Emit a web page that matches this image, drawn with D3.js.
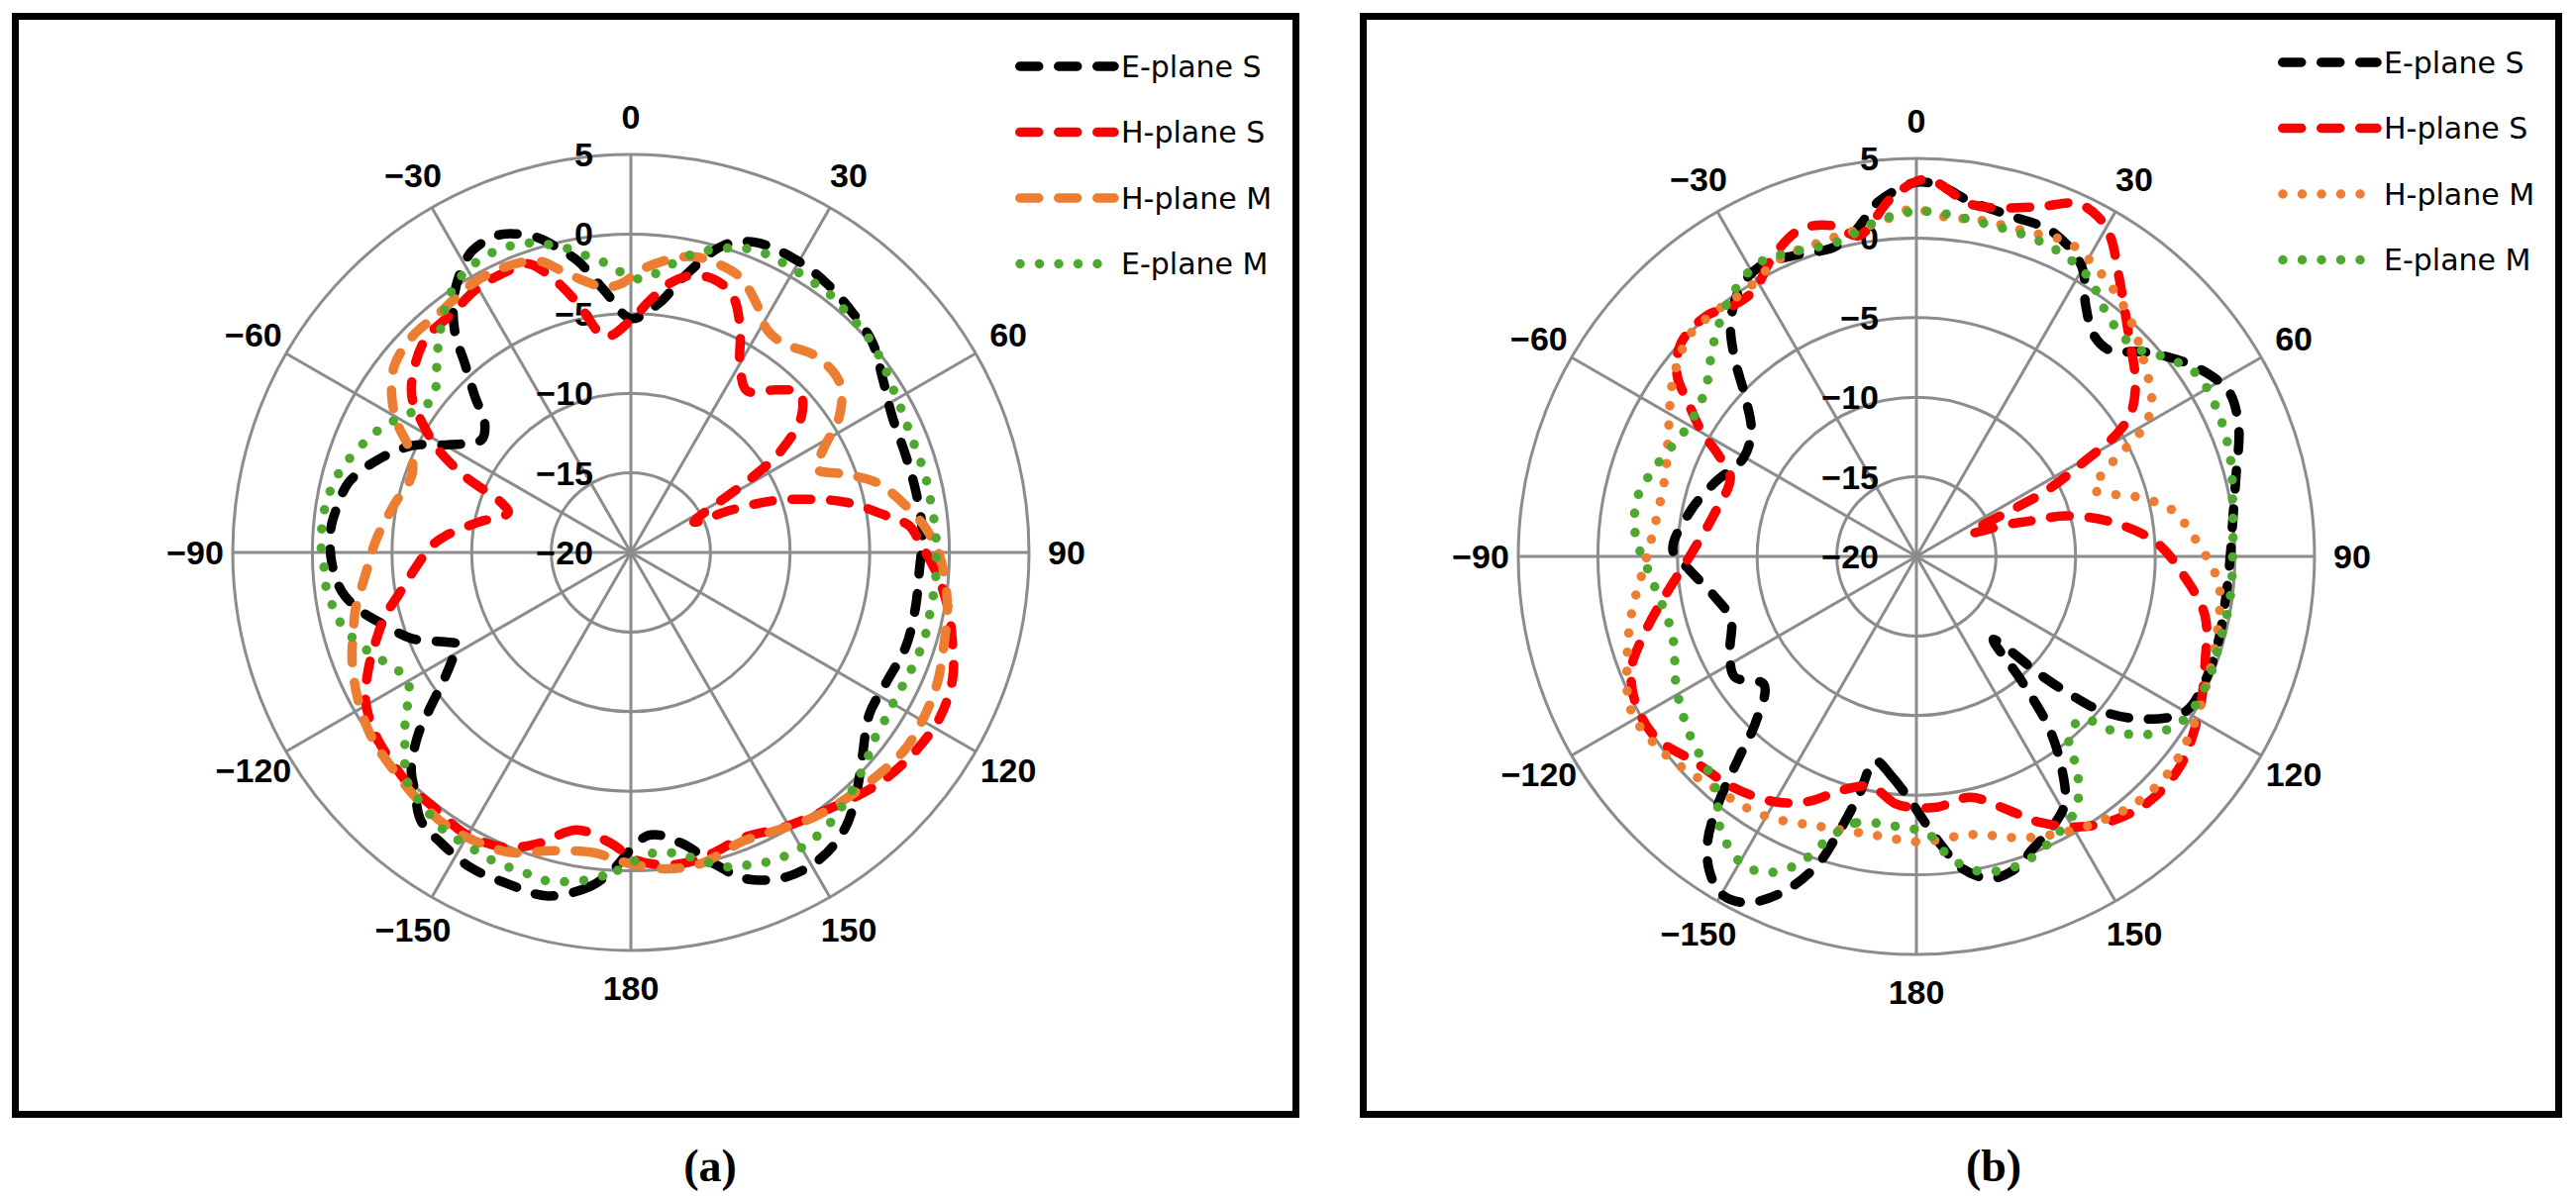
<!DOCTYPE html>
<html>
<head>
<meta charset="utf-8">
<script src="https://cdn.jsdelivr.net/npm/d3@7"></script>
<style>
  body { margin: 0; background: #ffffff; }
  .tick-label { font-family: "Liberation Sans", Arial, sans-serif; font-weight: bold; font-size: 34px; fill: #000; }
  .legend-label { font-family: "DejaVu Sans", sans-serif; font-size: 30px; fill: #000; }
  .panel-label { font-family: "Liberation Serif", "Times New Roman", serif; font-weight: bold; font-size: 46px; fill: #000; }
</style>
</head>
<body>
<div id="chart"></div>
<script>
var svgWidth = 2601;
var svgHeight = 1210;

// tick labels and names
var angleTicks = [0, 30, 60, 90, 120, 150, 180, -150, -120, -90, -60, -30];
var radialTicks = [-20, -15, -10, -5, 0, 5];
var seriesNames = ["E-plane S", "H-plane S", "H-plane M", "E-plane M"];
var panelLabels = ["(a)", "(b)"];

// ---- panel (a) : angle (deg) / gain (dB) ----
var aEplaneSAng = [-176.4, -173.2, -166.4, -159.6, -153, -147, -142, -137.8, -134.7, -130.6, -127.4, -124, -120, -118, -115.6, -111.4, -106.5, -102.4, -97.8, -91.8, -85.5, -81.7, -76, -69.8, -64, -59.4, -52.9, -48.5, -45, -41.3, -38.8, -35.5, -32, -27.8, -22.7, -20, -16.4, -14, -10.3, -5.8, 0, 6.4, 10.8, 16.8, 22, 29.5, 36, 42.9, 49, 55.5, 62.5, 70.7, 78, 86, 93.6, 100.8, 108.9, 116.8, 124.2, 131.5, 137, 142, 148, 154.4, 160.5, 165, 170.3, 176.4];
var aEplaneSDb = [0.1, 1.1, 2.2, 2.2, 2.2, 1.8, 1.4, 0.2, -0.6, -2.4, -4.25, -5.9, -7.2, -7.7, -7.0, -5.2, -3.9, -2.7, -1.7, -1.2, -1.1, -1.3, -1.75, -3.1, -4.7, -6.7, -8.25, -7.75, -6.15, -4.2, -2.4, -0.8, 0.4, 1.4, 1.6, 1.3, 0.6, -0.15, -1.4, -3.45, -5.3, -4.25, -2.4, 0.15, 1.0, 1.1, 0.9, 0.5, 0.1, -0.8, -1.5, -1.7, -1.7, -1.65, -1.85, -1.8, -1.75, -2.0, -1.9, -0.6, 0.75, 1.9, 2.6, 2.6, 1.75, 0.25, -1.5, -2.2];

var aHplaneSAng = [-176, -169, -162.3, -156.8, -149.5, -143.3, -137, -131, -125.5, -119.3, -113.8, -108, -104.3, -100.4, -94.3, -88, -84.9, -78.9, -72, -69, -65.3, -61.9, -58.2, -55, -51.2, -44, -36.9, -29.9, -23.5, -19.6, -16.1, -12, -6.7, 0, 4.4, 8.3, 12.7, 17.5, 21.8, 26.1, 30, 35.7, 41.8, 46.6, 51.4, 56, 58.4, 64.3, 67, 70, 73.4, 76.9, 81.8, 84.5, 88.3, 93.7, 99.5, 105.5, 111.4, 118.2, 124.9, 132.2, 137.8, 144.7, 151, 158.5, 165.3, 171.6, 178.8];
var aHplaneSDb = [-1.7, -2.25, -0.8, 0.15, 0.5, 0.25, 0.2, -0.05, -0.3, -0.9, -2.0, -3.3, -4.1, -5.15, -6.4, -7.5, -8.3, -10.2, -11.9, -11.3, -8.5, -6.3, -4.6, -3.25, -2.4, -1.4, -1.25, -0.8, -0.7, -0.75, -2.0, -4.0, -6.35, -5.4, -4.1, -2.9, -2.15, -2.1, -2.7, -4.4, -6.3, -7.5, -6.3, -5.4, -6.3, -8.7, -11.2, -15.6, -13.2, -10.5, -8.3, -6.1, -3.8, -2.45, -1.8, -0.8, 0.15, 0.95, 1.7, 2.0, 1.8, 1.35, 0.8, 0.15, -0.25, -0.75, -0.4, -0.2, -0.64];

var aHplaneMAng = [-178, -173, -165, -158.2, -151.5, -145.6, -139.4, -132, -125.6, -118.7, -111.4, -105.3, -102, -95, -87, -79, -70, -64.5, -61.5, -57.4, -51.9, -45.4, -38.9, -30.6, -23.8, -17.6, -13.9, -9.7, -5.7, -2, 2, 7, 12, 16.6, 21.6, 26.8, 31.4, 36, 43.4, 50.9, 56.8, 61.8, 65.8, 69.7, 74, 79.6, 85.4, 91.2, 99.5, 106.5, 112.8, 118.8, 125.4, 131.8, 139.5, 145.5, 152.4, 158.7, 167.5, 173.5, 178.8];
var aHplaneMDb = [-0.6, -1.0, -0.6, 0.3, 0.6, 0.7, 0.5, 0.2, 0, -0.5, -1.2, -1.95, -2.3, -3.25, -4.0, -4.8, -5.4, -4.5, -3.4, -2.2, -1.1, -0.7, -0.75, -0.4, -0.4, -0.8, -1.75, -2.7, -3.25, -3.1, -2.25, -1.5, -1.0, -1.06, -1.4, -2.5, -3.6, -3.75, -3.05, -3.1, -4.35, -6.3, -7.2, -5.8, -4.0, -2.65, -1.4, -0.55, 0.15, 0.5, 0.9, 1.1, 1.2, 0.9, 0.5, 0.2, -0.3, -0.55, 0.04, 0, -0.35];

var aEplaneMAng = [-178.1, -175, -171.9, -168.6, -165.2, -162, -158.6, -155.2, -152, -148.7, -145.4, -142, -138.6, -135, -132.5, -129.9, -126.8, -124, -120.4, -116, -112.7, -109.7, -106, -102.3, -99, -95.5, -91.8, -88, -84.6, -81, -77.4, -73.7, -70.6, -66.8, -63.4, -60, -56.3, -52.5, -48.4, -45.5, -42.4, -39.4, -36.5, -33.4, -30.2, -27, -23.4, -20, -16.7, -13.7, -10.6, -7.4, -4, -1, 2.8, 6, 9.4, 12.5, 15.9, 19, 22, 25.7, 29, 32.5, 35.8, 39, 42.8, 46.2, 49.6, 53, 56.5, 60.2, 63.8, 67.4, 71, 74.7, 78.6, 82, 85.9, 89.3, 93, 96.8, 100.6, 104, 107.6, 111.4, 114.8, 118.5, 122.3, 125.9, 129.4, 132.9, 136.2, 139.5, 142.5, 145.8, 149, 152.2, 155.5, 158.8, 162, 165.1, 168.1, 171.3, 175, 178.5];
var aEplaneMDb = [-0.1, 0.4, 0.8, 1.1, 1.3, 1.2, 1.2, 1.2, 1.1, 1.07, 1.0, 0.7, 0.4, 0, -0.75, -1.5, -2.3, -3.1, -3.8, -3.5, -2.8, -2.2, -1.55, -1.1, -0.9, -0.7, -0.7, -0.5, -0.55, -0.6, -0.8, -1.1, -1.5, -2.0, -2.5, -3.15, -3.85, -4.25, -3.7, -2.9, -2.1, -1.3, -0.55, 0.1, 0.5, 0.7, 0.75, 0.6, 0.3, -0.2, -0.7, -1.4, -1.9, -2.6, -2.8, -2.2, -1.4, -0.7, -0.2, 0.25, 0.5, 0.6, 0.5, 0.5, 0.45, 0.45, 0.2, 0.2, 0, -0.2, -0.5, -0.7, -0.85, -0.95, -0.95, -0.9, -0.9, -0.9, -0.8, -0.85, -0.8, -0.8, -0.85, -0.8, -0.8, -0.9, -0.95, -1.05, -0.9, -0.85, -0.5, -0.1, 0.3, 0.65, 1.0, 1.25, 1.4, 1.4, 1.3, 1.0, 0.8, 0.25, -0.35, -0.85, -1.1, -0.75];

// ---- panel (b) ----
var bEplaneSAng = [-179, -173.6, -168.6, -166.4, -164.2, -162.2, -158.5, -154, -150.2, -146.8, -143.8, -141.3, -138.6, -136, -130, -123.5, -116.7, -108.7, -101, -93.3, -88.5, -78.9, -70, -60.5, -52.9, -47, -42.5, -38.6, -33.6, -28.4, -21.7, -15, -10.8, -8.3, -6, 0, 3.8, 8.6, 15.6, 22.8, 29.7, 33.9, 38.8, 43.3, 48, 54.1, 59, 62.5, 68.2, 75.5, 83.4, 90.3, 97.3, 105.9, 113.3, 120, 125.6, 129.8, 131.7, 133.5, 137.2, 139.8, 142.2, 145.3, 149, 153.2, 158.5, 162.4, 167, 171.7, 175.1, 178.2];
var bEplaneSDb = [-4.5, -6.1, -6.9, -4.5, -1.9, 0.35, 2.6, 4.2, 4.5, 3.7, 2.2, -0.1, -3.15, -5.45, -7.5, -6.3, -6.9, -7.7, -7.05, -5.7, -4.7, -5.5, -6.5, -7.5, -7.0, -5.3, -3.1, -1.3, 0.1, 0.7, 0.38, 0.1, 0.75, 1.6, 2.44, 3.5, 3.3, 2.56, 2.2, 2.1, 0.96, -0.95, -2.2, -2.24, -0.8, 0.8, 1.8, 2.2, 1.8, 0.74, 0, -0.3, -0.4, -0.3, -0.25, -0.5, -2.45, -4.8, -6.8, -9.0, -12.9, -9.8, -6.5, -4.05, -1.9, -1.0, -0.2, 0.58, 0.77, -0.2, -1.8, -3.3];

var bHplaneSAng = [-179, -175.2, -168.8, -162.4, -156.3, -150.3, -141.9, -132.6, -124.9, -117.7, -111.6, -106, -99, -90.4, -78.6, -66.9, -62.8, -59.8, -56.2, -52.7, -47.8, -41.2, -35.8, -31.1, -25.9, -19.5, -14, -10.2, -3.9, 1.5, 9.3, 18.9, 24.5, 28.1, 31.2, 35.6, 43.9, 51.4, 56.1, 58.5, 60.6, 63.2, 66.5, 70.5, 72.7, 74.8, 79.9, 86.7, 94.4, 101.6, 110, 116.7, 122.8, 128.3, 135, 140.8, 147.9, 155, 161, 167.4, 175.3];
var bHplaneSDb = [-4.25, -4.4, -5.27, -4.6, -3.2, -2.24, -1.5, -1.0, -0.07, -0.1, -0.75, -2.2, -4.0, -5.7, -7.0, -7.3, -6.0, -4.4, -2.8, -1.1, -0.05, 0.06, -0.5, -0.4, 0.8, 1.8, 1.4, 0.47, 2.6, 3.7, 2.36, 3.2, 4.36, 4.2, 3.5, 1.8, -0.76, -2.4, -3.75, -5.2, -8.0, -10.9, -16.3, -14.0, -12.5, -10.3, -7.6, -4.9, -3.1, -1.5, -0.7, 0.04, 0.66, 1.15, 1.27, 0.94, 0.02, -1.56, -3.3, -4.5, -4.2];

var bHplaneMAng = [-170.7, -160.6, -149.4, -138.9, -128, -118.5, -109.3, -101, -92, -81.9, -71.7, -62.5, -54.3, -45.8, -39.7, -32.4, -24.6, -16.8, -9.3, -4.9, -0.7, 4.9, 11.1, 19, 26, 33.3, 40.8, 48.9, 57.1, 60.4, 62.5, 66, 69.2, 75.6, 79.8, 85.6, 94.7, 100.3, 111.7, 121.6, 130.7, 138.5, 147.9, 158.4, 169, 179.2];
var bHplaneMDb = [-2.3, -2.0, -1.1, -0.7, 0.09, 0.37, -0.76, -1.8, -2.9, -3.5, -3.4, -2.46, -1.16, -0.1, -0.1, -0.14, 0.56, 0.64, 0.9, 1.28, 1.83, 1.4, 1.5, 1.55, 1.9, 1.2, 0.24, -1.1, -2.4, -3.6, -5.1, -7.2, -8.1, -5.3, -3.66, -2.6, -1.0, -0.65, -0.2, 0.4, 0.86, 0.73, 0.02, -1.0, -2.2, -2.07];

var bEplaneMAng = [-175.6, -166.9, -162.9, -158.8, -154.2, -149.8, -144, -139.1, -128.1, -118.9, -107.8, -94.7, -85.6, -77.9, -70.8, -59.7, -51.6, -43.5, -35.6, -28.1, -21.4, -14, -6.3, 0.7, 10.5, 22.2, 31, 39.4, 46.3, 51.8, 57, 64.4, 72.6, 80.6, 88.9, 97.2, 105.8, 113.1, 121.2, 126.4, 131.1, 134.6, 140, 143.3, 147.5, 152.2, 161.5, 168.9, 173.7, 177.5];
var bEplaneMDb = [-3.0, -2.8, -1.5, 0.78, 2.05, 2.14, 1.0, -0.75, -1.9, -2.8, -3.9, -3.3, -2.3, -2.1, -2.7, -3.5, -3.1, -1.5, 0.04, 0.92, 0.6, 0.36, 1.24, 1.69, 1.37, 1.24, 0.68, -0.8, -1.0, 0.12, 1.0, 1.0, 0.66, 0.13, -0.13, -0.13, -0.21, -0.1, -0.3, -1.3, -3.14, -5.44, -5.1, -3.06, -1.3, -0.55, 0.43, 0.14, -1.0, -2.54];

// line styles
var dashed = "19 20";
var dotted = "0 19.5";
var colors = ["#000000", "#ff0000", "#ed7d31", "#4ea72e"];

var svg = d3.select("#chart")
    .append("svg")
    .attr("width", svgWidth)
    .attr("height", svgHeight);

var panels = [
    {
        box: [15.5, 16.5, 1293, 1109],
        cx: 637, cy: 558,
        legendX: 1025, legendY: 67,
        label: panelLabels[0], labelX: 717,
        dash: [dashed, dashed, dashed, dotted],
        series: [
            d3.zip(aEplaneSAng, aEplaneSDb),
            d3.zip(aHplaneSAng, aHplaneSDb),
            d3.zip(aHplaneMAng, aHplaneMDb),
            d3.zip(aEplaneMAng, aEplaneMDb)
        ]
    },
    {
        box: [1376.5, 16.5, 1207, 1109],
        cx: 1935, cy: 562,
        legendX: 2300, legendY: 63,
        label: panelLabels[1], labelX: 2013,
        dash: [dashed, dashed, dotted, dotted],
        series: [
            d3.zip(bEplaneSAng, bEplaneSDb),
            d3.zip(bHplaneSAng, bHplaneSDb),
            d3.zip(bHplaneMAng, bHplaneMDb),
            d3.zip(bEplaneMAng, bEplaneMDb)
        ]
    }
];

function fmt(v) {
    return v < 0 ? "\u2212" + Math.abs(v) : String(v);
}

function drawPanel(p) {
    var rScale = d3.scaleLinear().domain([-20, 5]).range([0, 402]);
    var rad = function(d) { return d * Math.PI / 180; };

    // frame
    svg.append("rect")
        .attr("x", p.box[0]).attr("y", p.box[1])
        .attr("width", p.box[2]).attr("height", p.box[3])
        .attr("fill", "none")
        .attr("stroke", "#000")
        .attr("stroke-width", 7);

    var plot = svg.append("g")
        .attr("transform", `translate(${p.cx}, ${p.cy})`);

    // grid circles
    plot.selectAll(".grid-circle")
        .data(radialTicks.slice(1))
        .enter().append("circle")
        .attr("r", d => rScale(d))
        .attr("fill", "none")
        .attr("stroke", "#8c8c8c")
        .attr("stroke-width", 3);

    // spokes
    plot.selectAll(".spoke")
        .data(angleTicks)
        .enter().append("line")
        .attr("x1", 0).attr("y1", 0)
        .attr("x2", d => rScale(5) * Math.sin(rad(d)))
        .attr("y2", d => -rScale(5) * Math.cos(rad(d)))
        .attr("stroke", "#8c8c8c")
        .attr("stroke-width", 3);

    // angle labels
    plot.selectAll(".angle-label")
        .data(angleTicks)
        .enter().append("text")
        .attr("class", "tick-label")
        .attr("x", d => 440 * Math.sin(rad(d)))
        .attr("y", d => -440 * Math.cos(rad(d)))
        .attr("text-anchor", "middle")
        .attr("dominant-baseline", "central")
        .text(d => fmt(d));

    // radial labels
    plot.selectAll(".radial-label")
        .data(radialTicks)
        .enter().append("text")
        .attr("class", "tick-label")
        .attr("x", -38)
        .attr("y", d => -rScale(d))
        .attr("text-anchor", "end")
        .attr("dominant-baseline", "central")
        .text(d => fmt(d));

    var line = d3.lineRadial()
        .angle(d => rad(d[0]))
        .radius(d => rScale(d[1]))
        .curve(d3.curveCatmullRomClosed.alpha(0.5));

    // curves
    p.series.forEach(function(s, i) {
        plot.append("path")
            .datum(s)
            .attr("d", line)
            .attr("fill", "none")
            .attr("stroke", colors[i])
            .attr("stroke-width", 9.5)
            .attr("stroke-linecap", "round")
            .attr("stroke-linejoin", "round")
            .attr("stroke-dasharray", p.dash[i]);
    });

    // legend
    var legend = svg.append("g");
    seriesNames.forEach(function(name, i) {
        var y = p.legendY + i * 66.5;
        var isDot = p.dash[i] === dotted;
        legend.append("line")
            .attr("x1", isDot ? p.legendX + 5 : p.legendX + 4.75)
            .attr("x2", isDot ? p.legendX + 86 : p.legendX + 100)
            .attr("y1", y).attr("y2", y)
            .attr("stroke", colors[i])
            .attr("stroke-width", 9.5)
            .attr("stroke-linecap", "round")
            .attr("stroke-dasharray", p.dash[i]);
        legend.append("text")
            .attr("class", "legend-label")
            .attr("x", p.legendX + 107)
            .attr("y", y)
            .attr("dominant-baseline", "central")
            .text(name);
    });

    // panel caption
    svg.append("text")
        .attr("class", "panel-label")
        .attr("x", p.labelX)
        .attr("y", 1177)
        .attr("text-anchor", "middle")
        .attr("dominant-baseline", "central")
        .text(p.label);
}

panels.forEach(drawPanel);
</script>
</body>
</html>
